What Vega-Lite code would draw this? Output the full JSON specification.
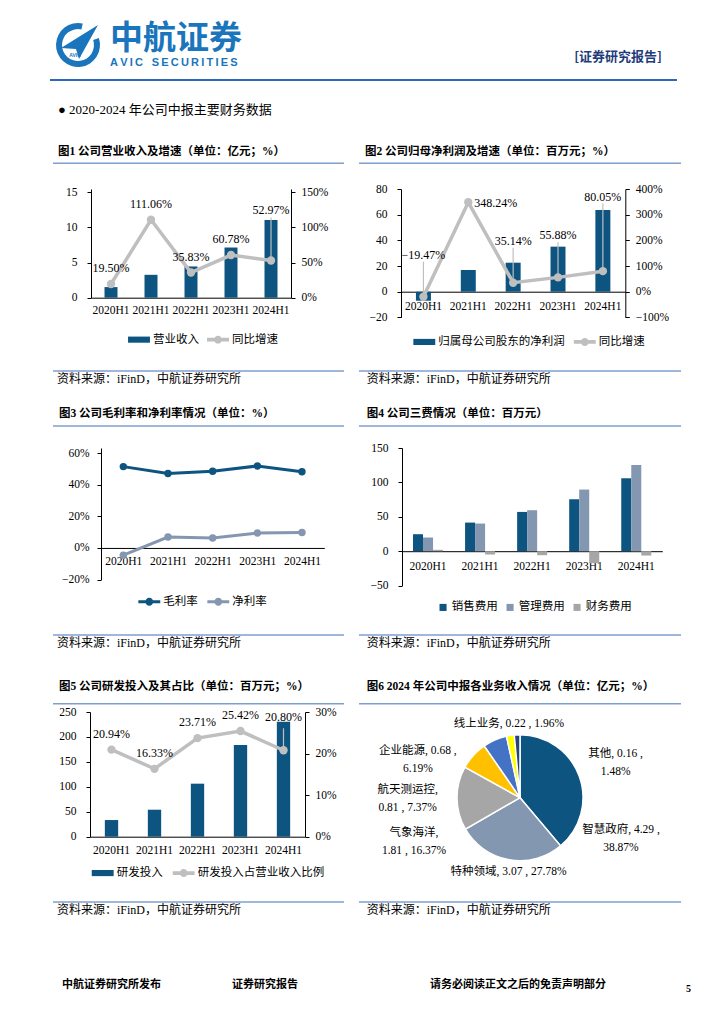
{
"$schema": "https://vega.github.io/schema/vega-lite/v6.json",
"padding": 0,
"spacing": 0,
"bounds": "full",
"background": "white",
"resolve": {"scale": {"color": "independent"}, "legend": {"color": "independent"}},
"config": {
  "view": {"stroke": null},
  "font": "Liberation Serif, Noto Sans CJK SC",
  "axis": {"labelFont": "Liberation Serif", "labelFontSize": 11.5, "labelColor": "#000", "domainColor": "#000", "tickColor": "#000", "grid": false, "domainWidth": 1, "tickWidth": 1, "tickSize": 4},
  "legend": {"labelFont": "Liberation Serif, Noto Sans CJK SC", "labelFontSize": 11.5, "labelColor": "#000"},
  "title": {"font": "Liberation Serif, Noto Sans CJK SC", "color": "#000"},
  "text": {"font": "Liberation Serif, Noto Sans CJK SC", "color": "#000"}
},
"vconcat": [
  {"spacing": 0, "bounds": "flush", "resolve": {"scale": {"color": "independent"}, "legend": {"color": "independent"}}, "hconcat": [
    {"width": 50, "height": 90, "data": {"values": []}, "mark": "point"},
    {"width": 56, "height": 90, "data": {"values": [{"a": 1}]}, "layer": [
      {"mark": {"type": "rule", "color": "#2a6ab8", "strokeWidth": 2}, "encoding": {"y": {"datum": 10, "type": "quantitative", "scale": {"domain": [0, 90]}, "axis": null}}},
      {"mark": {"type": "arc", "theta": 1.25, "theta2": 6.5, "radius": 22, "radius2": 16, "color": "#1a75bd"}, "encoding": {}},
      {"mark": {"type": "point", "shape": "M1,-1L-0.85,0.15L-0.1,0.2L0.05,0.7Z", "size": 1600, "filled": true, "color": "#1a75bd", "opacity": 1}, "encoding": {}},
      {"mark": {"type": "text", "text": "AVIC", "fontSize": 5, "dy": 10, "dx": -3, "color": "#1a75bd", "font": "Liberation Sans", "fontWeight": "bold"}, "encoding": {}}
    ]},
    {"width": 144, "height": 90, "data": {"values": [{"a": 1}]}, "mark": {"type": "rule", "color": "#2a6ab8", "strokeWidth": 2}, "encoding": {"y": {"datum": 10, "type": "quantitative", "scale": {"domain": [0, 90]}, "axis": null}},
     "title": {"text": "中航证券", "subtitle": "A\u2009V\u2009I\u2009C\u2009\u2009\u2009\u2009S\u2009E\u2009C\u2009U\u2009R\u2009I\u2009T\u2009I\u2009E\u2009S", "anchor": "start", "frame": "group", "offset": -68, "dx": 4, "fontSize": 33, "fontWeight": "bold", "color": "#1a75bd", "font": "Noto Sans CJK SC", "subtitleFont": "Liberation Sans", "subtitleFontSize": 11, "subtitleColor": "#1a75bd", "subtitleFontWeight": "bold", "subtitlePadding": 1}},
    {"width": 427, "height": 90, "data": {"values": [{"a": 1}]}, "mark": {"type": "rule", "color": "#2a6ab8", "strokeWidth": 2}, "encoding": {"y": {"datum": 10, "type": "quantitative", "scale": {"domain": [0, 90]}, "axis": null}},
     "title": {"text": "[证券研究报告]", "anchor": "end", "frame": "group", "offset": -64, "dx": -15, "fontSize": 13, "fontWeight": "bold", "color": "#1f3d7a", "font": "Noto Sans CJK SC"}}
  ]},
  {"spacing": 0, "bounds": "flush", "resolve": {"scale": {"color": "independent"}, "legend": {"color": "independent"}}, "hconcat": [
    {"width": 53, "height": 92.3, "data": {"values": []}, "mark": "point"},
    {"width": 291, "height": 73.3, "data": {"values": [{"a": 0}]}, "mark": {"type": "rule", "color": "#7f9fd0", "strokeWidth": 1.5}, "encoding": {"y": {"datum": 0, "type": "quantitative", "scale": {"domain": [0, 1]}, "axis": null}},
     "title": {"text": "●  2020-2024 年公司中报主要财务数据", "subtitle": "图1  公司营业收入及增速（单位：亿元；%）", "anchor": "start", "frame": "group", "offset": -67, "dx": 5, "fontSize": 13, "fontWeight": "normal", "subtitleFont": "Liberation Serif, Noto Sans CJK SC", "subtitleFontSize": 11.5, "subtitleFontWeight": "bold", "subtitleColor": "#000", "subtitlePadding": 29}},
    {"width": 15, "height": 73.3, "data": {"values": []}, "mark": "point"},
    {"width": 322, "height": 73.3, "data": {"values": [{"a": 0}]}, "mark": {"type": "rule", "color": "#7f9fd0", "strokeWidth": 1.5}, "encoding": {"y": {"datum": 0, "type": "quantitative", "scale": {"domain": [0, 1]}, "axis": null}},
     "title": {"text": "图2  公司归母净利润及增速（单位：百万元；%）", "anchor": "start", "frame": "group", "offset": -67, "dx": 6, "fontSize": 11.5, "fontWeight": "bold"}}
  ]},
  {"spacing": 0, "bounds": "flush", "resolve": {"scale": {"color": "independent"}, "legend": {"color": "independent"}}, "hconcat": [
    {"width": 90.7, "height": 180.95, "data": {"values": []}, "mark": "point"},
    {"width": 200, "height": 108.7,
     "data": {"values": [
       {"p": "2020H1", "rev": 1.51, "g": 0.195},
       {"p": "2021H1", "rev": 3.26, "g": 1.1106},
       {"p": "2022H1", "rev": 4.45, "g": 0.3583},
       {"p": "2023H1", "rev": 7.15, "g": 0.6078},
       {"p": "2024H1", "rev": 11.07, "g": 0.5297}]},
     "encoding": {"x": {"field": "p", "type": "ordinal", "sort": null, "scale": {"paddingInner": 0.675, "paddingOuter": 0.3375}, "axis": {"title": null, "labelAngle": 0, "ticks": false, "labelPadding": 7}}},
     "layer": [
       {"mark": {"type": "bar"}, "encoding": {
         "y": {"field": "rev", "type": "quantitative", "scale": {"domain": [0, 15.484]}, "axis": {"title": null, "values": [0, 5, 10, 15], "labelPadding": 10}},
         "color": {"datum": "营业收入", "type": "nominal", "scale": {"domain": ["营业收入", "同比增速"], "range": ["#0e5480", "#bfbfbf"]},
           "legend": {"orient": "none", "legendX": 37, "legendY": 139.4, "direction": "horizontal", "title": null, "symbolSize": 480, "columnPadding": 8, "labelOffset": 3,
             "encode": {"symbols": {"update": {"shape": {"signal": "datum.value === '营业收入' ? 'M-1,-0.28H1V0.28H-1Z' : 'M-1,-0.17H1V0.17H-1Z M0.36,0A0.36,0.36 0 1,1 -0.36,0A0.36,0.36 0 1,1 0.36,0Z'"}, "fill": {"signal": "datum.value === '营业收入' ? '#0e5480' : '#bfbfbf'"}, "stroke": {"value": "transparent"}, "strokeWidth": {"value": 0}, "opacity": {"value": 1}}}}}}}},
       {"encoding": {"y": {"field": "g", "type": "quantitative", "scale": {"domain": [0, 1.5484]}, "axis": {"title": null, "orient": "right", "values": [0, 0.5, 1, 1.5], "format": ".0%", "labelPadding": 6}}},
        "layer": [
          {"mark": {"type": "line", "strokeWidth": 3.5}, "encoding": {"color": {"datum": "同比增速", "type": "nominal"}}},
          {"mark": {"type": "point", "filled": true, "size": 70, "opacity": 1}, "encoding": {"color": {"datum": "同比增速", "type": "nominal"}}},
          {"transform": [{"filter": "datum.p === '2024H1'"}], "mark": {"type": "point", "shape": "M0,0L0,-1", "size": 7396, "filled": false, "stroke": "#bfbfbf", "strokeWidth": 1.2, "opacity": 1}},
          {"transform": [{"filter": "datum.p !== '2024H1'"}], "mark": {"type": "text", "dy": -16, "fontSize": 12, "font": "Liberation Serif"}, "encoding": {"text": {"field": "g", "type": "quantitative", "format": ".2%"}}},
          {"transform": [{"filter": "datum.p === '2024H1'"}], "mark": {"type": "text", "dy": -51, "fontSize": 12, "font": "Liberation Serif"}, "encoding": {"text": {"field": "g", "type": "quantitative", "format": ".2%"}}}
        ]}
     ],
     "resolve": {"scale": {"y": "independent"}}},
    {"width": 110, "height": 0, "data": {"values": []}, "mark": "point"},
    {"width": 224.3, "height": 128.4,
     "data": {"values": [
       {"p": "2020H1", "np": -7.0, "g": -0.1947},
       {"p": "2021H1", "np": 16.9, "g": 3.4824},
       {"p": "2022H1", "np": 22.6, "g": 0.3514},
       {"p": "2023H1", "np": 35.1, "g": 0.5588},
       {"p": "2024H1", "np": 63.6, "g": 0.8005}]},
     "encoding": {"x": {"field": "p", "type": "ordinal", "sort": null, "scale": {"paddingInner": 0.666, "paddingOuter": 0.333}, "axis": {"title": null, "labelAngle": 0, "ticks": false, "offset": -25.7, "labelPadding": 9}}},
     "layer": [
       {"mark": {"type": "bar"}, "encoding": {
         "y": {"field": "np", "type": "quantitative", "scale": {"domain": [-20, 80]}, "axis": {"title": null, "values": [-20, 0, 20, 40, 60, 80], "labelPadding": 10}},
         "color": {"datum": "归属母公司股东的净利润", "type": "nominal", "scale": {"domain": ["归属母公司股东的净利润", "同比增速"], "range": ["#0e5480", "#bfbfbf"]},
           "legend": {"orient": "none", "legendX": 12.3, "legendY": 141.7, "direction": "horizontal", "title": null, "symbolSize": 480, "columnPadding": 8.5, "labelOffset": 3,
             "encode": {"symbols": {"update": {"shape": {"signal": "datum.value === '归属母公司股东的净利润' ? 'M-1,-0.28H1V0.28H-1Z' : 'M-1,-0.17H1V0.17H-1Z M0.36,0A0.36,0.36 0 1,1 -0.36,0A0.36,0.36 0 1,1 0.36,0Z'"}, "fill": {"signal": "datum.value === '归属母公司股东的净利润' ? '#0e5480' : '#bfbfbf'"}, "stroke": {"value": "transparent"}, "strokeWidth": {"value": 0}, "opacity": {"value": 1}}}}}}}},
       {"encoding": {"y": {"field": "g", "type": "quantitative", "scale": {"domain": [-1, 4]}, "axis": {"title": null, "orient": "right", "values": [-1, 0, 1, 2, 3, 4], "format": ".0%", "labelPadding": 6}}},
        "layer": [
          {"mark": {"type": "line", "strokeWidth": 3.5}, "encoding": {"color": {"datum": "同比增速", "type": "nominal"}}},
          {"mark": {"type": "point", "filled": true, "size": 70, "opacity": 1}, "encoding": {"color": {"datum": "同比增速", "type": "nominal"}}},
          {"transform": [{"filter": "datum.p === '2020H1' || datum.p === '2022H1' || datum.p === '2023H1'"}], "mark": {"type": "point", "shape": "M0,0L0,-1", "size": 4900, "filled": false, "stroke": "#bfbfbf", "strokeWidth": 1.2, "opacity": 1}},
          {"transform": [{"filter": "datum.p === '2024H1'"}], "mark": {"type": "point", "shape": "M0,0L0,-1", "size": 18496, "filled": false, "stroke": "#bfbfbf", "strokeWidth": 1.2, "opacity": 1}},
          {"transform": [{"filter": "datum.p === '2020H1' || datum.p === '2022H1' || datum.p === '2023H1'"}], "mark": {"type": "text", "dy": -42, "fontSize": 12, "font": "Liberation Serif"}, "encoding": {"text": {"field": "g", "type": "quantitative", "format": ".2%"}}},
          {"transform": [{"filter": "datum.p === '2021H1'"}], "mark": {"type": "text", "align": "left", "dx": 6, "dy": 1, "fontSize": 12, "font": "Liberation Serif"}, "encoding": {"text": {"field": "g", "type": "quantitative", "format": ".2%"}}},
          {"transform": [{"filter": "datum.p === '2024H1'"}], "mark": {"type": "text", "dy": -74, "fontSize": 12, "font": "Liberation Serif"}, "encoding": {"text": {"field": "g", "type": "quantitative", "format": ".2%"}}}
        ]}
     ],
     "resolve": {"scale": {"y": "independent"}}}
  ]},
  {"spacing": 0, "bounds": "flush", "resolve": {"scale": {"color": "independent"}, "legend": {"color": "independent"}}, "hconcat": [
    {"width": 53, "height": 30, "data": {"values": []}, "mark": "point"},
    {"width": 291, "height": 30, "data": {"values": [{"a": 0}]}, "mark": {"type": "rule", "color": "#7f9fd0", "strokeWidth": 1.5}, "encoding": {"y": {"datum": 1, "type": "quantitative", "scale": {"domain": [0, 1]}, "axis": null}},
     "title": {"text": "资料来源：iFinD，中航证券研究所", "anchor": "start", "frame": "group", "offset": -16, "dx": 4, "fontSize": 12, "fontWeight": "normal"}},
    {"width": 15, "height": 30, "data": {"values": []}, "mark": "point"},
    {"width": 322, "height": 30, "data": {"values": [{"a": 0}]}, "mark": {"type": "rule", "color": "#7f9fd0", "strokeWidth": 1.5}, "encoding": {"y": {"datum": 1, "type": "quantitative", "scale": {"domain": [0, 1]}, "axis": null}},
     "title": {"text": "资料来源：iFinD，中航证券研究所", "anchor": "start", "frame": "group", "offset": -16, "dx": 7.7, "fontSize": 12, "fontWeight": "normal"}}
  ]},
  {"spacing": 0, "bounds": "flush", "resolve": {"scale": {"color": "independent"}, "legend": {"color": "independent"}}, "hconcat": [
    {"width": 53, "height": 40.95, "data": {"values": []}, "mark": "point"},
    {"width": 291, "height": 25, "data": {"values": [{"a": 0}]}, "mark": {"type": "rule", "color": "#7f9fd0", "strokeWidth": 1.5}, "encoding": {"y": {"datum": 0, "type": "quantitative", "scale": {"domain": [0, 1]}, "axis": null}},
     "title": {"text": "图3  公司毛利率和净利率情况（单位：%）", "anchor": "start", "frame": "group", "offset": -18, "dx": 6, "fontSize": 11.5, "fontWeight": "bold"}},
    {"width": 15, "height": 25, "data": {"values": []}, "mark": "point"},
    {"width": 322, "height": 25, "data": {"values": [{"a": 0}]}, "mark": {"type": "rule", "color": "#7f9fd0", "strokeWidth": 1.5}, "encoding": {"y": {"datum": 0, "type": "quantitative", "scale": {"domain": [0, 1]}, "axis": null}},
     "title": {"text": "图4  公司三费情况（单位：百万元）", "anchor": "start", "frame": "group", "offset": -18, "dx": 7.7, "fontSize": 11.5, "fontWeight": "bold"}}
  ]},
  {"spacing": 0, "bounds": "flush", "resolve": {"scale": {"color": "independent"}, "legend": {"color": "independent"}}, "hconcat": [
    {"width": 100.7, "height": 185.85, "data": {"values": []}, "mark": "point"},
    {"width": 223.3, "height": 131.6,
     "data": {"values": [
       {"p": "2020H1", "s": "毛利率", "v": 0.514},
       {"p": "2021H1", "s": "毛利率", "v": 0.470},
       {"p": "2022H1", "s": "毛利率", "v": 0.485},
       {"p": "2023H1", "s": "毛利率", "v": 0.518},
       {"p": "2024H1", "s": "毛利率", "v": 0.481},
       {"p": "2020H1", "s": "净利率", "v": -0.046},
       {"p": "2021H1", "s": "净利率", "v": 0.069},
       {"p": "2022H1", "s": "净利率", "v": 0.063},
       {"p": "2023H1", "s": "净利率", "v": 0.094},
       {"p": "2024H1", "s": "净利率", "v": 0.098}]},
     "encoding": {
       "x": {"field": "p", "type": "ordinal", "sort": null, "scale": {"type": "point", "padding": 0.5}, "axis": {"title": null, "labelAngle": 0, "ticks": false, "offset": -31.65, "labelPadding": 8}},
       "y": {"field": "v", "type": "quantitative", "scale": {"domain": [-0.2, 0.6316]}, "axis": {"title": null, "values": [-0.2, 0, 0.2, 0.4, 0.6], "format": ".0%", "labelPadding": 8}},
       "color": {"field": "s", "type": "nominal", "scale": {"domain": ["毛利率", "净利率"], "range": ["#0e5480", "#8496b0"]},
         "legend": {"orient": "none", "legendX": 37.3, "legendY": 142.5, "direction": "horizontal", "title": null, "symbolSize": 480, "columnPadding": 9, "labelOffset": 3,
           "encode": {"symbols": {"update": {"shape": {"value": "M-1,-0.14H1V0.14H-1Z M0.36,0A0.36,0.36 0 1,1 -0.36,0A0.36,0.36 0 1,1 0.36,0Z"}, "fill": {"signal": "datum.value === '毛利率' ? '#0e5480' : '#8496b0'"}, "stroke": {"value": "transparent"}, "strokeWidth": {"value": 0}, "opacity": {"value": 1}}}}}}},
     "layer": [
       {"mark": {"type": "line", "strokeWidth": 3}},
       {"mark": {"type": "point", "filled": true, "size": 55, "opacity": 1}}
     ]},
    {"width": 76.7, "height": 0, "data": {"values": []}, "mark": "point"},
    {"width": 260.3, "height": 137.6,
     "data": {"values": [
       {"p": "2020H1", "t": "销售费用", "v": 24.7}, {"p": "2020H1", "t": "管理费用", "v": 19.9}, {"p": "2020H1", "t": "财务费用", "v": 2.0},
       {"p": "2021H1", "t": "销售费用", "v": 41.6}, {"p": "2021H1", "t": "管理费用", "v": 40.2}, {"p": "2021H1", "t": "财务费用", "v": -4.8},
       {"p": "2022H1", "t": "销售费用", "v": 57.1}, {"p": "2022H1", "t": "管理费用", "v": 59.6}, {"p": "2022H1", "t": "财务费用", "v": -5.8},
       {"p": "2023H1", "t": "销售费用", "v": 75.5}, {"p": "2023H1", "t": "管理费用", "v": 89.6}, {"p": "2023H1", "t": "财务费用", "v": -17.4},
       {"p": "2024H1", "t": "销售费用", "v": 106.0}, {"p": "2024H1", "t": "管理费用", "v": 125.4}, {"p": "2024H1", "t": "财务费用", "v": -6.3}]},
     "mark": {"type": "bar"},
     "encoding": {
       "x": {"field": "p", "type": "ordinal", "sort": null, "scale": {"paddingInner": 0.423, "paddingOuter": 0.2115}, "axis": {"title": null, "labelAngle": 0, "ticks": false, "offset": -34.4, "labelPadding": 9}},
       "xOffset": {"field": "t", "type": "nominal", "sort": ["销售费用", "管理费用", "财务费用"], "scale": {"paddingInner": 0, "paddingOuter": 0}},
       "y": {"field": "v", "type": "quantitative", "scale": {"domain": [-50, 150]}, "axis": {"title": null, "values": [-50, 0, 50, 100, 150], "labelPadding": 10}},
       "color": {"field": "t", "type": "nominal", "scale": {"domain": ["销售费用", "管理费用", "财务费用"], "range": ["#0e5480", "#8497b0", "#a6a6a6"]},
         "legend": {"orient": "none", "legendX": 35.3, "legendY": 153.3, "direction": "horizontal", "title": null, "symbolType": "square", "symbolSize": 50, "columnPadding": 6, "labelOffset": 3, "symbolStrokeWidth": 0}}}}
  ]},
  {"spacing": 0, "bounds": "flush", "resolve": {"scale": {"color": "independent"}, "legend": {"color": "independent"}}, "hconcat": [
    {"width": 53, "height": 29.7, "data": {"values": []}, "mark": "point"},
    {"width": 291, "height": 29.7, "data": {"values": [{"a": 0}]}, "mark": {"type": "rule", "color": "#7f9fd0", "strokeWidth": 1.5}, "encoding": {"y": {"datum": 1, "type": "quantitative", "scale": {"domain": [0, 1]}, "axis": null}},
     "title": {"text": "资料来源：iFinD，中航证券研究所", "anchor": "start", "frame": "group", "offset": -16, "dx": 4, "fontSize": 12, "fontWeight": "normal"}},
    {"width": 15, "height": 29.7, "data": {"values": []}, "mark": "point"},
    {"width": 322, "height": 29.7, "data": {"values": [{"a": 0}]}, "mark": {"type": "rule", "color": "#7f9fd0", "strokeWidth": 1.5}, "encoding": {"y": {"datum": 1, "type": "quantitative", "scale": {"domain": [0, 1]}, "axis": null}},
     "title": {"text": "资料来源：iFinD，中航证券研究所", "anchor": "start", "frame": "group", "offset": -16, "dx": 7.7, "fontSize": 12, "fontWeight": "normal"}}
  ]},
  {"spacing": 0, "bounds": "flush", "resolve": {"scale": {"color": "independent"}, "legend": {"color": "independent"}}, "hconcat": [
    {"width": 53, "height": 40.3, "data": {"values": []}, "mark": "point"},
    {"width": 291, "height": 38.7, "data": {"values": [{"a": 0}]}, "mark": {"type": "rule", "color": "#7f9fd0", "strokeWidth": 1.5}, "encoding": {"y": {"datum": 0, "type": "quantitative", "scale": {"domain": [0, 1]}, "axis": null}},
     "title": {"text": "图5  公司研发投入及其占比（单位：百万元；%）", "anchor": "start", "frame": "group", "offset": -27, "dx": 6, "fontSize": 11.5, "fontWeight": "bold"}},
    {"width": 15, "height": 38.7, "data": {"values": []}, "mark": "point"},
    {"width": 322, "height": 38.7, "data": {"values": [{"a": 0}]}, "mark": {"type": "rule", "color": "#7f9fd0", "strokeWidth": 1.5}, "encoding": {"y": {"datum": 0, "type": "quantitative", "scale": {"domain": [0, 1]}, "axis": null}},
     "title": {"text": "图6  2024 年公司中报各业务收入情况（单位：亿元；%）", "anchor": "start", "frame": "group", "offset": -27, "dx": 7.7, "fontSize": 11.5, "fontWeight": "bold"}}
  ]},
  {"spacing": 0, "bounds": "flush", "resolve": {"scale": {"color": "independent"}, "legend": {"color": "independent"}}, "hconcat": [
    {"width": 90, "height": 188.5, "data": {"values": []}, "mark": "point"},
    {"width": 215, "height": 124.7,
     "data": {"values": [
       {"p": "2020H1", "rd": 33.4, "r": 0.2094},
       {"p": "2021H1", "rd": 54.1, "r": 0.1633},
       {"p": "2022H1", "rd": 106.3, "r": 0.2371},
       {"p": "2023H1", "rd": 183.9, "r": 0.2542},
       {"p": "2024H1", "rd": 230.6, "r": 0.2080}]},
     "encoding": {"x": {"field": "p", "type": "ordinal", "sort": null, "scale": {"paddingInner": 0.69, "paddingOuter": 0.345}, "axis": {"title": null, "labelAngle": 0, "ticks": false, "labelPadding": 8}}},
     "layer": [
       {"mark": {"type": "bar"}, "encoding": {
         "y": {"field": "rd", "type": "quantitative", "scale": {"domain": [0, 250]}, "axis": {"title": null, "values": [0, 50, 100, 150, 200, 250], "labelPadding": 10}},
         "color": {"datum": "研发投入", "type": "nominal", "scale": {"domain": ["研发投入", "研发投入占营业收入比例"], "range": ["#0e5480", "#bfbfbf"]},
           "legend": {"orient": "none", "legendX": 1.7, "legendY": 149.8, "direction": "horizontal", "title": null, "symbolSize": 480, "columnPadding": 10, "labelOffset": 3,
             "encode": {"symbols": {"update": {"shape": {"signal": "datum.value === '研发投入' ? 'M-1,-0.28H1V0.28H-1Z' : 'M-1,-0.17H1V0.17H-1Z M0.36,0A0.36,0.36 0 1,1 -0.36,0A0.36,0.36 0 1,1 0.36,0Z'"}, "fill": {"signal": "datum.value === '研发投入' ? '#0e5480' : '#bfbfbf'"}, "stroke": {"value": "transparent"}, "strokeWidth": {"value": 0}, "opacity": {"value": 1}}}}}}}},
       {"encoding": {"y": {"field": "r", "type": "quantitative", "scale": {"domain": [0, 0.3]}, "axis": {"title": null, "orient": "right", "values": [0, 0.1, 0.2, 0.3], "format": ".0%", "labelPadding": 6}}},
        "layer": [
          {"mark": {"type": "line", "strokeWidth": 3.5}, "encoding": {"color": {"datum": "研发投入占营业收入比例", "type": "nominal"}}},
          {"mark": {"type": "point", "filled": true, "size": 70, "opacity": 1}, "encoding": {"color": {"datum": "研发投入占营业收入比例", "type": "nominal"}}},
          {"transform": [{"filter": "datum.p === '2024H1'"}], "mark": {"type": "point", "shape": "M0,0L0,-1", "size": 1936, "filled": false, "stroke": "#bfbfbf", "strokeWidth": 1.2, "opacity": 1}},
          {"transform": [{"filter": "datum.p !== '2024H1'"}], "mark": {"type": "text", "dy": -16, "fontSize": 12, "font": "Liberation Serif"}, "encoding": {"text": {"field": "r", "type": "quantitative", "format": ".2%"}}},
          {"transform": [{"filter": "datum.p === '2024H1'"}], "mark": {"type": "text", "dy": -33, "fontSize": 12, "font": "Liberation Serif"}, "encoding": {"text": {"field": "r", "type": "quantitative", "format": ".2%"}}}
        ]}
     ],
     "resolve": {"scale": {"y": "independent"}}},
    {"width": 70, "height": 0, "data": {"values": []}, "mark": "point"},
    {"width": 290, "height": 171.4,
     "data": {"values": [
       {"cat": "智慧政府", "v": 4.29, "lab": "智慧政府, 4.29 ,\n38.87%"},
       {"cat": "特种领域", "v": 3.07, "lab": "特种领域, 3.07 , 27.78%"},
       {"cat": "气象海洋", "v": 1.81, "lab": "气象海洋,\n1.81 , 16.37%"},
       {"cat": "航天测运控", "v": 0.81, "lab": "航天测运控,\n0.81 , 7.37%"},
       {"cat": "企业能源", "v": 0.68, "lab": "企业能源, 0.68 ,\n6.19%"},
       {"cat": "线上业务", "v": 0.22, "lab": "线上业务, 0.22 , 1.96%"},
       {"cat": "其他", "v": 0.16, "lab": "其他, 0.16 ,\n1.48%"}]},
     "encoding": {"theta": {"field": "v", "type": "quantitative", "stack": true}, "order": {"field": "v", "type": "quantitative", "sort": "descending"}},
     "layer": [
       {"mark": {"type": "arc", "outerRadius": 63, "stroke": "#ffffff", "strokeWidth": 1.5}, "encoding": {"color": {"field": "cat", "type": "nominal", "scale": {"domain": ["智慧政府", "特种领域", "气象海洋", "航天测运控", "企业能源", "线上业务", "其他"], "range": ["#0e5480", "#8497b0", "#a6a6a6", "#ffc000", "#4472c4", "#ffff00", "#264478"]}, "legend": null}}},
       {"mark": {"type": "text", "clip": true, "radius": 80, "dx": 25.8, "dy": 59.9, "align": "center", "baseline": "middle", "lineBreak": "\n", "lineHeight": 18, "fontSize": 11.5}, "encoding": {"text": {"condition": {"test": "datum.cat === '智慧政府'", "field": "lab"}, "value": ""}}},
       {"mark": {"type": "text", "clip": true, "radius": 80, "dx": 2.4, "dy": -4.8, "align": "center", "baseline": "middle", "lineBreak": "\n", "lineHeight": 18, "fontSize": 11.5}, "encoding": {"text": {"condition": {"test": "datum.cat === '特种领域'", "field": "lab"}, "value": ""}}},
       {"mark": {"type": "text", "clip": true, "radius": 80, "dx": -26, "dy": 34.3, "align": "center", "baseline": "middle", "lineBreak": "\n", "lineHeight": 18, "fontSize": 11.5}, "encoding": {"text": {"condition": {"test": "datum.cat === '气象海洋'", "field": "lab"}, "value": ""}}},
       {"mark": {"type": "text", "clip": true, "radius": 80, "dx": -53.1, "dy": 45.9, "align": "center", "baseline": "middle", "lineBreak": "\n", "lineHeight": 18, "fontSize": 11.5}, "encoding": {"text": {"condition": {"test": "datum.cat === '航天测运控'", "field": "lab"}, "value": ""}}},
       {"mark": {"type": "text", "clip": true, "radius": 80, "dx": -70.2, "dy": 26.2, "align": "center", "baseline": "middle", "lineBreak": "\n", "lineHeight": 18, "fontSize": 11.5}, "encoding": {"text": {"condition": {"test": "datum.cat === '企业能源'", "field": "lab"}, "value": ""}}},
       {"mark": {"type": "text", "clip": true, "radius": 80, "dx": 1.2, "dy": 5.8, "align": "center", "baseline": "middle", "lineBreak": "\n", "lineHeight": 18, "fontSize": 11.5}, "encoding": {"text": {"condition": {"test": "datum.cat === '线上业务'", "field": "lab"}, "value": ""}}},
       {"mark": {"type": "text", "clip": true, "radius": 80, "dx": 99.3, "dy": 36.1, "align": "center", "baseline": "middle", "lineBreak": "\n", "lineHeight": 18, "fontSize": 11.5}, "encoding": {"text": {"condition": {"test": "datum.cat === '其他'", "field": "lab"}, "value": ""}}}
     ]}
  ]},
  {"spacing": 0, "bounds": "flush", "resolve": {"scale": {"color": "independent"}, "legend": {"color": "independent"}}, "hconcat": [
    {"width": 53, "height": 31.7, "data": {"values": []}, "mark": "point"},
    {"width": 291, "height": 31.7, "data": {"values": [{"a": 0}]}, "mark": {"type": "rule", "color": "#7f9fd0", "strokeWidth": 1.5}, "encoding": {"y": {"datum": 1, "type": "quantitative", "scale": {"domain": [0, 1]}, "axis": null}},
     "title": {"text": "资料来源：iFinD，中航证券研究所", "anchor": "start", "frame": "group", "offset": -16, "dx": 4, "fontSize": 12, "fontWeight": "normal"}},
    {"width": 15, "height": 31.7, "data": {"values": []}, "mark": "point"},
    {"width": 322, "height": 31.7, "data": {"values": [{"a": 0}]}, "mark": {"type": "rule", "color": "#7f9fd0", "strokeWidth": 1.5}, "encoding": {"y": {"datum": 1, "type": "quantitative", "scale": {"domain": [0, 1]}, "axis": null}},
     "title": {"text": "资料来源：iFinD，中航证券研究所", "anchor": "start", "frame": "group", "offset": -16, "dx": 7.7, "fontSize": 12, "fontWeight": "normal"}}
  ]},
  {"spacing": 0, "bounds": "flush", "hconcat": [
    {"width": 62, "height": 70, "data": {"values": []}, "mark": "point"},
    {"width": 170, "height": 70, "data": {"values": []}, "mark": "point", "title": {"text": "中航证券研究所发布", "anchor": "start", "frame": "group", "offset": -56, "fontSize": 11, "fontWeight": "bold"}},
    {"width": 198, "height": 70, "data": {"values": []}, "mark": "point", "title": {"text": "证券研究报告", "anchor": "start", "frame": "group", "offset": -56, "fontSize": 11, "fontWeight": "bold"}},
    {"width": 256, "height": 70, "data": {"values": []}, "mark": "point", "title": {"text": "请务必阅读正文之后的免责声明部分", "anchor": "start", "frame": "group", "offset": -56, "fontSize": 11, "fontWeight": "bold"}},
    {"width": 10, "height": 70, "data": {"values": []}, "mark": "point", "title": {"text": "5", "anchor": "start", "frame": "group", "offset": -60, "fontSize": 10, "fontWeight": "bold"}}
  ]}
]
}
